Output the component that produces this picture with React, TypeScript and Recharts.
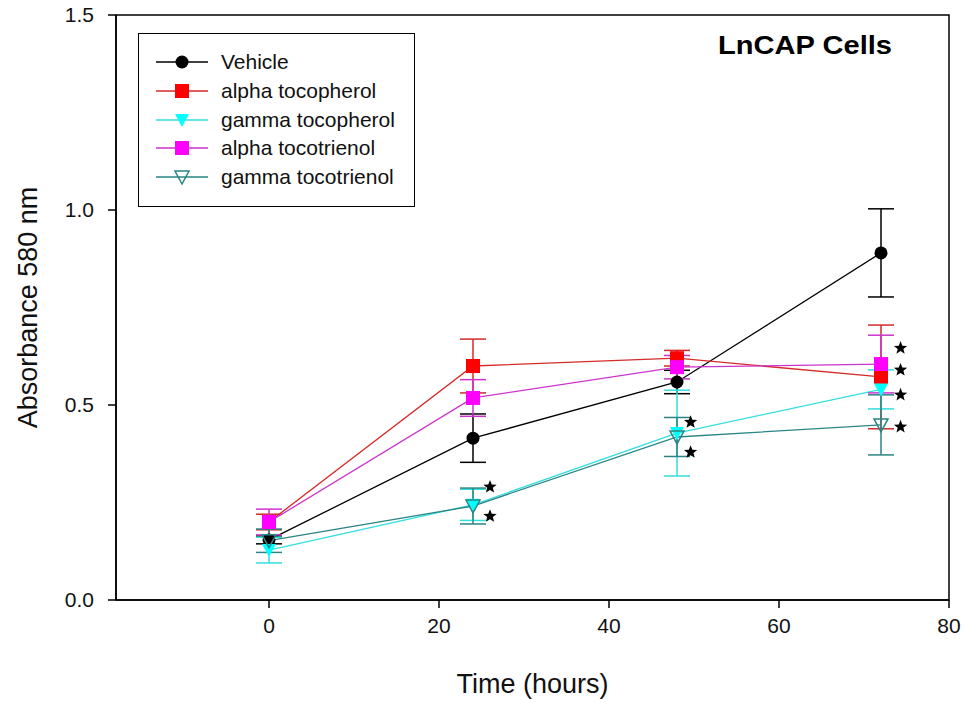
import React from "react";
import { ComposedChart, Line, Scatter, XAxis, YAxis, ErrorBar, Legend, ReferenceArea } from "recharts";

// time points (hours)
const times = [0, 24, 48, 72];

// absorbance means and errors per treatment
const vehicle = [0.154, 0.415, 0.559, 0.89];
const vehicleErr = [0.01, 0.062, 0.03, 0.113];
const alphaToco = [0.2, 0.6, 0.62, 0.572];
const alphaTocoErr = [0.02, 0.069, 0.02, 0.133];
const gammaToco = [0.128, 0.244, 0.428, 0.54];
const gammaTocoErr = [0.033, 0.04, 0.11, 0.05];
const alphaTri = [0.2, 0.518, 0.597, 0.605];
const alphaTriErr = [0.033, 0.047, 0.03, 0.074];
const gammaTri = [0.152, 0.241, 0.418, 0.449];
const gammaTriErr = [0.03, 0.046, 0.05, 0.077];

// significance asterisks
const starTimes = [26, 26, 49.6, 49.6, 74.3, 74.3, 74.3, 74.3];
const starValues = [0.29, 0.215, 0.456, 0.379, 0.646, 0.59, 0.526, 0.444];

const xTicks = [0, 20, 40, 60, 80];
const yTicks = [0, 0.5, 1.0, 1.5];

const rows = times.map((t, i) => ({
  t,
  vehicle: vehicle[i],
  vehicleErr: vehicleErr[i],
  alphaToco: alphaToco[i],
  alphaTocoErr: alphaTocoErr[i],
  gammaToco: gammaToco[i],
  gammaTocoErr: gammaTocoErr[i],
  alphaTri: alphaTri[i],
  alphaTriErr: alphaTriErr[i],
  gammaTri: gammaTri[i],
  gammaTriErr: gammaTriErr[i],
}));

const starRows = starTimes.map((t, i) => ({ t, star: starValues[i] }));

type Kind = "circle" | "square" | "triDown" | "triOpen";

const series: { key: string; name: string; line: string; fill: string; kind: Kind }[] = [
  { key: "vehicle", name: "Vehicle", line: "#000000", fill: "#000000", kind: "circle" },
  { key: "alphaToco", name: "alpha tocopherol", line: "#d42a2a", fill: "#ff0000", kind: "square" },
  { key: "gammaToco", name: "gamma tocopherol", line: "#33dede", fill: "#00ffff", kind: "triDown" },
  { key: "alphaTri", name: "alpha tocotrienol", line: "#cc33cc", fill: "#ff00ff", kind: "square" },
  { key: "gammaTri", name: "gamma tocotrienol", line: "#2a8585", fill: "#2a8585", kind: "triOpen" },
];

function marker(kind: Kind, cx: number, cy: number, color: string, key?: string) {
  if (kind === "circle") return <circle key={key} cx={cx} cy={cy} r={6.5} fill={color} />;
  if (kind === "square") return <rect key={key} x={cx - 7} y={cy - 7} width={14} height={14} fill={color} />;
  const pts = `${cx - 7},${cy - 6} ${cx + 7},${cy - 6} ${cx},${cy + 7}`;
  if (kind === "triDown") return <polygon key={key} points={pts} fill={color} />;
  return <polygon key={key} points={pts} fill="none" stroke={color} strokeWidth={1.5} />;
}

function StarShape(props: any) {
  const { cx, cy } = props;
  const pts: string[] = [];
  for (let i = 0; i < 10; i++) {
    const r = i % 2 === 0 ? 7 : 3;
    const a = -Math.PI / 2 + (i * Math.PI) / 5;
    pts.push(`${cx + r * Math.cos(a)},${cy + r * Math.sin(a)}`);
  }
  return <polygon points={pts.join(" ")} fill="#000" />;
}

function LegendBox() {
  return (
    <div
      style={{
        width: 277,
        height: 174,
        border: "1.5px solid #000",
        background: "#fff",
        paddingTop: 14,
        boxSizing: "border-box",
      }}
    >
      {series.map((s) => (
        <div key={s.key} style={{ display: "flex", alignItems: "center", height: 28.7 }}>
          <svg width={82} height={20} style={{ flex: "none" }}>
            <line x1={17} y1={10} x2={69} y2={10} stroke={s.line} strokeWidth={1.5} />
            {marker(s.kind, 43, 10, s.fill)}
          </svg>
          <span style={{ fontSize: 21, color: "#111", whiteSpace: "nowrap" }}>{s.name}</span>
        </div>
      ))}
    </div>
  );
}

const yLabel = (props: any) => {
  const { viewBox } = props;
  const cx = viewBox.x + 28;
  const cy = viewBox.y + viewBox.height / 2;
  return (
    <text x={cx} y={cy} transform={`rotate(-90 ${cx} ${cy})`} textAnchor="middle" dominantBaseline="central" fontSize={27} fill="#111">
      Absorbance 580 nm
    </text>
  );
};

const xLabel = (props: any) => {
  const { viewBox } = props;
  const cx = viewBox.x + viewBox.width / 2;
  const cy = viewBox.y + 84;
  return (
    <text x={cx} y={cy} textAnchor="middle" dominantBaseline="central" fontSize={27} fill="#111">
      Time (hours)
    </text>
  );
};

export default function App() {
  return (
    <div style={{ position: "absolute", left: 0, top: 0, width: 964, height: 702, background: "#fff", fontFamily: "'Liberation Sans', Arial, sans-serif" }}>
      <ComposedChart width={964} height={702} data={rows} margin={{ top: 15, right: 15, left: 0, bottom: 0 }}>
        <ReferenceArea x1={-18} x2={80} y1={0} y2={1.5} fill="none" stroke="#000" strokeWidth={1.5} />
        <XAxis
          dataKey="t"
          type="number"
          domain={[-18, 80]}
          ticks={xTicks}
          height={102}
          tickSize={8}
          tickMargin={10}
          axisLine={{ stroke: "#000", strokeWidth: 1.5 }}
          tickLine={{ stroke: "#000", strokeWidth: 1.5 }}
          tick={{ fill: "#111", fontSize: 21 }}
          label={{ content: xLabel }}
        />
        <YAxis
          type="number"
          domain={[0, 1.5]}
          ticks={yTicks}
          width={116}
          tickSize={8}
          tickMargin={14}
          tickFormatter={(v: number) => v.toFixed(1)}
          axisLine={{ stroke: "#000", strokeWidth: 1.5 }}
          tickLine={{ stroke: "#000", strokeWidth: 1.5 }}
          tick={{ fill: "#111", fontSize: 21 }}
          label={{ content: yLabel }}
        />
        <Legend
          verticalAlign="middle"
          align="center"
          content={() => <LegendBox />}
          wrapperStyle={{ position: "absolute", left: 138, top: 33, width: 277, height: 174 }}
        />
        {series.map((s) => (
          <Line
            key={s.key}
            dataKey={s.key}
            name={s.name}
            stroke={s.line}
            strokeWidth={1.3}
            isAnimationActive={false}
            dot={(p: any) => marker(s.kind, p.cx, p.cy, s.fill, `${s.key}-${p.index}`)}
            activeDot={false}
          >
            <ErrorBar dataKey={`${s.key}Err`} width={13} stroke={s.line} strokeWidth={1.5} direction="y" />
          </Line>
        ))}
        <Scatter data={starRows} dataKey="star" shape={StarShape} isAnimationActive={false} legendType="none" />
        <text x={805} y={45} textAnchor="middle" dominantBaseline="central" fontSize={26} fontWeight={600} fill="#000" textLength={174} lengthAdjust="spacingAndGlyphs">
          LnCAP Cells
        </text>
      </ComposedChart>
    </div>
  );
}
